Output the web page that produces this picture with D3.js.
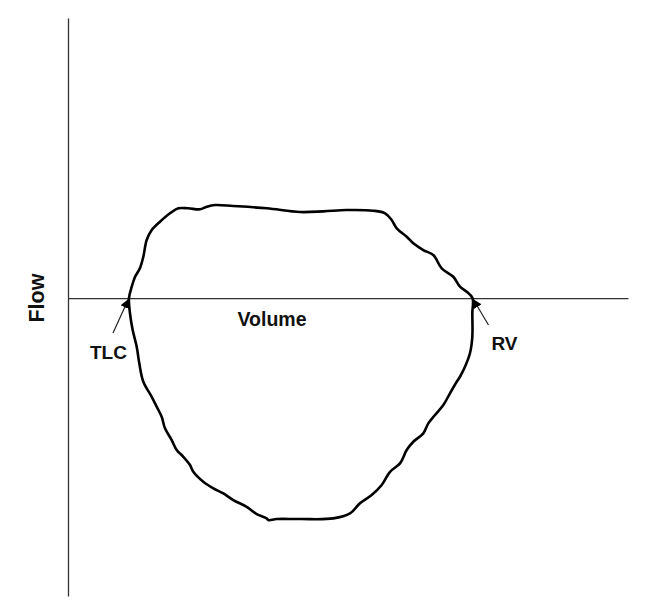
<!DOCTYPE html>
<html>
<head>
<meta charset="utf-8">
<script src="https://cdn.jsdelivr.net/npm/d3@7"></script>
<style>
  html, body { margin: 0; padding: 0; background: #fff; }
  svg { display: block; }
  text { font-family: "Liberation Sans", Arial, Helvetica, sans-serif; font-weight: bold; fill: #111; }
</style>
</head>
<body>
<svg id="chart" width="651" height="605"></svg>
<script>
// ---- Data (volume units along x, flow units along y) ----
const upperVolume = [1.089,1.138,1.196,1.286,1.345,1.405,1.495,1.643,1.821,1.970,2.148,2.357,2.477,2.625,2.952,3.548,4.143,4.559,4.977,5.452,5.661,5.780,5.870,6.048,6.166,6.345,6.523,6.673,6.880,7.000,7.120,7.223];
const upperFlow   = [0,0.202,0.375,0.536,0.738,1.036,1.214,1.363,1.513,1.602,1.602,1.584,1.630,1.661,1.643,1.602,1.536,1.548,1.571,1.559,1.513,1.393,1.245,1.095,0.977,0.857,0.768,0.530,0.380,0.202,0.112,0];
const lowerVolume = [7.220,7.220,7.179,7.089,7.000,6.941,6.821,6.702,6.554,6.434,6.345,6.166,6.048,5.929,5.750,5.602,5.423,5.214,5.036,4.738,4.143,3.727,3.577,3.548,3.370,3.191,2.952,2.773,2.595,2.416,2.238,2.179,2.059,1.941,1.852,1.732,1.673,1.584,1.495,1.345,1.273,1.227,1.155,1.107,1.089];
const lowerFlow   = [-0.273,-0.691,-0.982,-1.227,-1.405,-1.495,-1.702,-1.911,-2.089,-2.238,-2.416,-2.566,-2.714,-2.952,-3.102,-3.339,-3.518,-3.666,-3.845,-3.934,-3.946,-3.946,-3.964,-3.934,-3.857,-3.727,-3.607,-3.488,-3.398,-3.280,-3.102,-2.982,-2.834,-2.714,-2.536,-2.327,-2.120,-1.941,-1.763,-1.495,-1.166,-0.870,-0.571,-0.273,0];
const volumeDomain = [0, 10];
const flowDomain = [-5.32, 5];
const axisTitles = ["Volume", "Flow"];
const pointLabels = ["TLC", "RV"];
const pointVolume = [1.089, 7.223];
const pointFlow = [0, 0];

// ---- Layout ----
const svg = d3.select("#chart");
const x = d3.scaleLinear().domain(volumeDomain).range([68, 628]);
const y = d3.scaleLinear().domain(flowDomain).range([596, 18]);

// Axes (lines only)
svg.append("g")
  .attr("transform", `translate(0,${y(0)})`)
  .call(d3.axisBottom(x).ticks(0).tickSizeOuter(0))
  .select(".domain").attr("stroke", "#333").attr("stroke-width", 1.3);
svg.append("g")
  .attr("transform", `translate(${x(0)},0)`)
  .call(d3.axisLeft(y).ticks(0).tickSizeOuter(0))
  .select(".domain").attr("stroke", "#333").attr("stroke-width", 1.3);

// Loop
const pts = upperVolume.map((v, i) => [v, upperFlow[i]])
  .concat(lowerVolume.slice(0, -1).map((v, i) => [v, lowerFlow[i]]));
const line = d3.line().x(d => x(d[0])).y(d => y(d[1])).curve(d3.curveCatmullRomClosed.alpha(0.5));
svg.append("path")
  .attr("d", line(pts))
  .attr("fill", "none")
  .attr("stroke", "#000")
  .attr("stroke-width", 2.6)
  .attr("stroke-linejoin", "round")
  .attr("stroke-linecap", "round");

// Arrow marker
svg.append("defs").append("marker")
  .attr("id", "ah")
  .attr("viewBox", "0 0 10 10")
  .attr("refX", 9).attr("refY", 5)
  .attr("markerWidth", 9).attr("markerHeight", 9)
  .attr("markerUnits", "userSpaceOnUse")
  .attr("orient", "auto")
  .append("path").attr("d", "M0,0 L10,5 L0,10 Z").attr("fill", "#000");

// Annotations: arrows + labels (offsets relative to the marked points)
const arrowTail = [[-16, 35], [16, 27]];
const labelOffset = [[-39, 61], [19, 52]];
pointLabels.forEach((lab, i) => {
  const px = x(pointVolume[i]), py = y(pointFlow[i]);
  const dx = arrowTail[i][0], dy = arrowTail[i][1];
  const len = Math.hypot(dx, dy);
  svg.append("line")
    .attr("x1", px + dx).attr("y1", py + dy)
    .attr("x2", px + dx / len * 2).attr("y2", py + dy / len * 2)
    .attr("stroke", "#222").attr("stroke-width", 1.2)
    .attr("marker-end", "url(#ah)");
  svg.append("text")
    .attr("x", px + labelOffset[i][0]).attr("y", py + labelOffset[i][1])
    .attr("font-size", 19)
    .text(lab);
});

// Axis titles
svg.append("text")
  .attr("x", 237.5).attr("y", 326)
  .attr("font-size", 19.5)
  .text(axisTitles[0]);
svg.append("text")
  .attr("transform", `translate(44,${y(0)}) rotate(-90)`)
  .attr("text-anchor", "middle")
  .attr("font-size", 21.5)
  .text(axisTitles[1]);
</script>
</body>
</html>
